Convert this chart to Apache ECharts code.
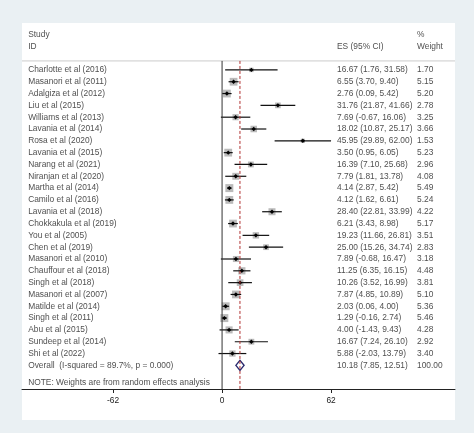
<!DOCTYPE html><html><head><meta charset="utf-8"><script src="https://cdn.jsdelivr.net/npm/echarts@6/dist/echarts.min.js"></script>
<style>html,body{margin:0;padding:0;background:#eaf0f3}#c{width:474px;height:433px}</style></head><body><div id="c"></div><script>
const studies=["Charlotte et al (2016)","Masanori et al (2011)","Adalgiza et al (2012)","Liu et al (2015)","Williams et al (2013)","Lavania et al (2014)","Rosa et al (2020)","Lavania et al (2015)","Narang et al (2021)","Niranjan et al (2020)","Martha et al (2014)","Camilo et al (2016)","Lavania et al (2018)","Chokkakula et al (2019)","You et al (2005)","Chen et al (2019)","Masanori et al (2010)","Chauffour et al (2018)","Singh et al (2018)","Masanori et al (2007)","Matilde et al (2014)","Singh et al (2011)","Abu et al (2015)","Sundeep et al (2014)","Shi et al (2022)"];
const es=[16.67,6.55,2.76,31.76,7.69,18.02,45.95,3.50,16.39,7.79,4.14,4.12,28.40,6.21,19.23,25.00,7.89,11.25,10.26,7.87,2.03,1.29,4.00,16.67,5.88];
const lo=[1.76,3.70,0.09,21.87,-0.67,10.87,29.89,0.95,7.10,1.81,2.87,1.62,22.81,3.43,11.66,15.26,-0.68,6.35,3.52,4.85,0.06,-0.16,-1.43,7.24,-2.03];
const hi=[31.58,9.40,5.42,41.66,16.06,25.17,62.00,6.05,25.68,13.78,5.42,6.61,33.99,8.98,26.81,34.74,16.47,16.15,16.99,10.89,4.00,2.74,9.43,26.10,13.79];
const weight=["1.70","5.15","5.20","2.78","3.25","3.66","1.53","5.23","2.96","4.08","5.49","5.24","4.22","5.17","3.51","2.83","3.18","4.48","3.81","5.10","5.36","5.46","4.28","2.92","3.40"];
const overall={es:10.18,lo:7.85,hi:12.51,label:"Overall  (I-squared = 89.7%, p = 0.000)",weight:"100.00"};
const ticks=[-62,0,62];
const XMIN=-113.8,XMAX=132.5,COL_ID=-110.3,COL_ES=65.4,COL_W=110.9;
const f=v=>v.toFixed(2);
const texts=[];
studies.forEach((s,i)=>{texts.push([COL_ID,i,s]);texts.push([COL_ES,i,f(es[i])+" ("+f(lo[i])+", "+f(hi[i])+")"]);texts.push([COL_W,i,weight[i]]);});
const n=studies.length;
texts.push([COL_ID,n,overall.label],[COL_ES,n,f(overall.es)+" ("+f(overall.lo)+", "+f(overall.hi)+")"],[COL_W,n,overall.weight]);
texts.push([COL_ID,n+1.45,"NOTE: Weights are from random effects analysis"]);
texts.push([COL_ID,-3.0,"Study"],[COL_ID,-2.0,"ID"],[COL_ES,-2.0,"ES (95% CI)"],[COL_W,-3.0,"%"],[COL_W,-2.0,"Weight"]);
const rows=studies.map((s,i)=>[es[i],i,lo[i],hi[i],parseFloat(weight[i])]);
const chart=echarts.init(document.getElementById('c'));
chart.setOption({
 animation:false,
 graphic:[{type:'rect',z:-10,shape:{x:22,y:23,width:433,height:397},style:{fill:'#fff'}}],
 grid:{left:22,right:19,top:23,bottom:44},
 xAxis:{type:'value',min:XMIN,max:XMAX,splitLine:{show:false},axisLine:{onZero:false,lineStyle:{color:'#222'}},
   axisTick:{customValues:ticks,length:4,inside:false,lineStyle:{color:'#222'}},
   axisLabel:{customValues:ticks,color:'#222',fontSize:8.4,fontFamily:'Liberation Sans',margin:8}},
 yAxis:{type:'value',inverse:true,min:-3.97,max:27,show:false},
 series:[
  {type:'line',data:[[XMIN,-0.76],[XMAX,-0.76]],symbol:'none',lineStyle:{color:'#ccc',width:1},silent:true},
  {type:'line',data:[[0,-0.76],[0,27]],symbol:'none',lineStyle:{color:'#333',width:1},silent:true},
  {type:'line',data:[[overall.es,-0.76],[overall.es,27]],symbol:'none',lineStyle:{color:'#b03030',width:1,type:[3,2]},silent:true},
  {type:'custom',data:rows,renderItem:(p,api)=>{
    const y=api.value(1),c=api.coord([api.value(0),y]),a=api.coord([api.value(2),y]),b=api.coord([api.value(3),y]);
    const s=8*Math.sqrt(api.value(4)/5.49);
    return {type:'group',children:[
      {type:'rect',shape:{x:c[0]-s/2,y:c[1]-s/2,width:s,height:s},style:{fill:'#bbb'}},
      {type:'line',shape:{x1:a[0],y1:a[1],x2:b[0],y2:b[1]},style:{stroke:'#111',lineWidth:1.2}},
      {type:'polygon',shape:{points:[[c[0]-2.2,c[1]],[c[0],c[1]-2.2],[c[0]+2.2,c[1]],[c[0],c[1]+2.2]]},style:{fill:'#000'}}]};
  }},
  {type:'custom',data:[[overall.es,n,overall.lo,overall.hi]],renderItem:(p,api)=>{
    const y=api.value(1),c=api.coord([api.value(0),y]),a=api.coord([api.value(2),y]),b=api.coord([api.value(3),y]);
    return {type:'polygon',shape:{points:[[a[0],c[1]],[c[0],c[1]-5],[b[0],c[1]],[c[0],c[1]+5]]},style:{fill:'#fff',stroke:'#2a2a6e',lineWidth:1.4}};
  }},
  {type:'scatter',data:texts,symbolSize:0,silent:true,label:{show:true,position:'right',distance:0,formatter:p=>p.data[2],color:'#222',fontSize:8.4,fontFamily:'Liberation Sans'}}
 ]
});
</script></body></html>
